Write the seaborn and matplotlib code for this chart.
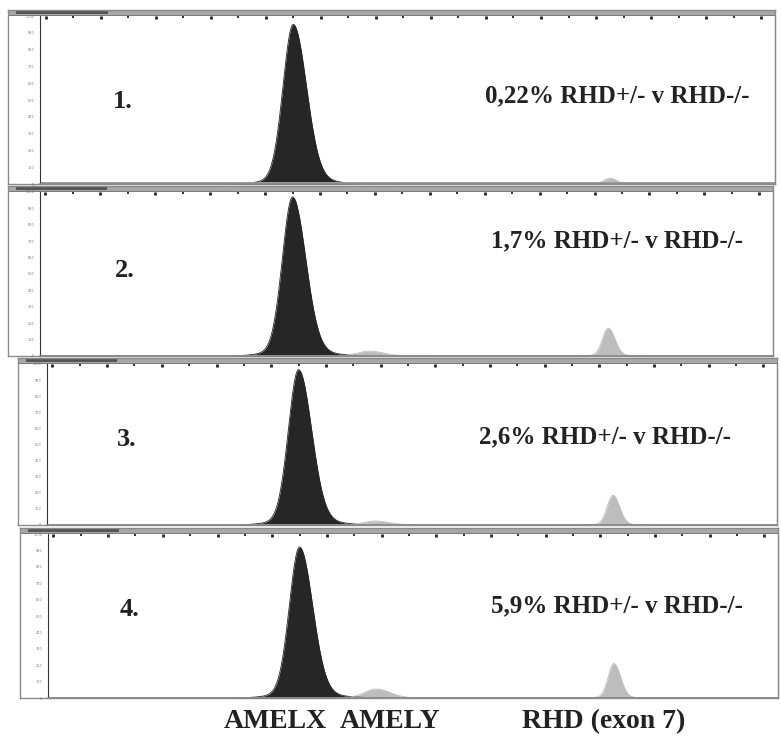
import numpy as np
import pandas as pd
import matplotlib.pyplot as plt
import seaborn as sns
from matplotlib.patches import Rectangle

# data
samples = ['1.', '2.', '3.', '4.']
ratios = ['0,22% RHD+/- v RHD-/-', '1,7% RHD+/- v RHD-/-',
          '2,6% RHD+/- v RHD-/-', '5,9% RHD+/- v RHD-/-']
markers = ['AMELX', 'AMELY', 'RHD (exon 7)']
marker_bp = [104.0, 109.6, 127.0]          # fragment size
amelx_h = [95, 97, 96.5, 92]              # % of full scale
amely_h = [0.6, 3, 2.5, 5.5]
rhd_h = [3.5, 17, 18.5, 21]
sigma_left = [0.74, 0.85, 0.42]
sigma_right = [0.95, 1.0, 0.48]

W, H = 781, 747
sns.set_style('white')
plt.rcParams['font.family'] = ['Liberation Serif', 'DejaVu Serif']
fig = plt.figure(figsize=(W / 100, H / 100), dpi=100)

def box(l, t, r, b):
    return [l / W, 1 - b / H, (r - l) / W, (b - t) / H]

# panel layout in pixels: frame left, frame top, inner left, right, bottom
panels = [(8, 10, 40, 775, 184), (8, 186, 40, 773, 356),
          (18, 358, 47, 777, 525), (20, 528, 48, 778, 698)]
num_pos = [(123, 101), (125, 270), (127, 440), (130, 610)]
txt_pos = [(617, 96), (617, 241), (605, 437), (617, 606)]
xlim = (85.6, 139.0)
x = np.linspace(xlim[0], xlim[1], 3000)
heights = list(zip(amelx_h, amely_h, rhd_h))

for i, (fl, ft, il, r, b) in enumerate(panels):
    # outer frame
    fa = fig.add_axes(box(fl, ft, r, b))
    fa.set_xticks([]); fa.set_yticks([])
    for s in fa.spines.values():
        s.set_color('#8a8a8a'); s.set_linewidth(1)
    fa.patch.set_alpha(0)
    # header bar
    fa.add_patch(Rectangle((0, 1 - 5 / (b - ft)), 1, 5 / (b - ft), transform=fa.transAxes,
                           facecolor='#a8a8a8', edgecolor='#6a6a6a', lw=0.6, clip_on=False))
    fa.add_patch(Rectangle((0.01, 1 - 4 / (b - ft)), 0.12, 3 / (b - ft), transform=fa.transAxes,
                           facecolor='#555555', lw=0, clip_on=False))

    ax = fig.add_axes(box(il, ft + 6, r, b))
    ax.patch.set_alpha(0)
    for m in range(3):
        c, h = marker_bp[m], heights[i][m]
        sig = np.where(x < c, sigma_left[m], sigma_right[m])
        # main peak plus a low broad foot, scaled so the apex sits at h
        y = h * (np.exp(-0.5 * ((x - c) / sig) ** 2)
                 + 0.04 * np.exp(-0.5 * ((x - c) / (2.3 * sig)) ** 2)) / 1.04
        keep = y > 0.02
        col = '#262626' if m == 0 else '#bdbdbd'
        ax.fill_between(x[keep], 0, y[keep], color=col, lw=0)
        sns.lineplot(x=x[keep], y=y[keep], ax=ax, color=col, lw=0.6)
    ax.axhline(0.3, color='#9a9a9a', lw=1.4)
    ax.set_xlim(xlim)
    ax.set_ylim(0, 100)
    ax.set_xticks(np.arange(86, 139, 4))
    ax.set_xticks(np.arange(88, 139, 4), minor=True)
    ax.tick_params(axis='x', which='both', bottom=False, top=True, labelbottom=False,
                   direction='in', color='#222222')
    ax.tick_params(axis='x', which='major', length=2.5, width=2)
    ax.tick_params(axis='x', which='minor', length=1.5, width=1.3)
    ax.set_yticks(np.arange(0, 101, 10))
    ax.set_yticks(np.arange(0, 101, 2.5), minor=True)
    ax.set_yticklabels([str(v * 100) for v in range(0, 11)], fontsize=2.5, color='#777777',
                       family='DejaVu Sans')
    ax.tick_params(axis='y', which='major', length=3, width=0.8, color='#333333', pad=1)
    ax.tick_params(axis='y', which='minor', length=2, width=0.5, color='#555555')
    ax.spines['left'].set_color('#333333')
    ax.spines['left'].set_linewidth(0.8)
    ax.spines['top'].set_visible(False)
    ax.spines['right'].set_color('#8a8a8a')
    ax.spines['bottom'].set_color('#8a8a8a')
    ax.spines['bottom'].set_linewidth(1.2)
    ax.set_xlabel(''); ax.set_ylabel('')

    fig.text(num_pos[i][0] / W, 1 - num_pos[i][1] / H, samples[i], fontsize=19,
             fontweight='bold', ha='center', va='center', color='#222222')
    fig.text(txt_pos[i][0] / W, 1 - txt_pos[i][1] / H, ratios[i], fontsize=18,
             fontweight='bold', ha='center', va='center', color='#222222')

label_x = [275, 390, 604]
for name, lx in zip(markers, label_x):
    fig.text(lx / W, 1 - 722 / H, name, fontsize=20, fontweight='bold',
             ha='center', va='center', color='#222222')

fig.savefig('out.png', dpi=100)
